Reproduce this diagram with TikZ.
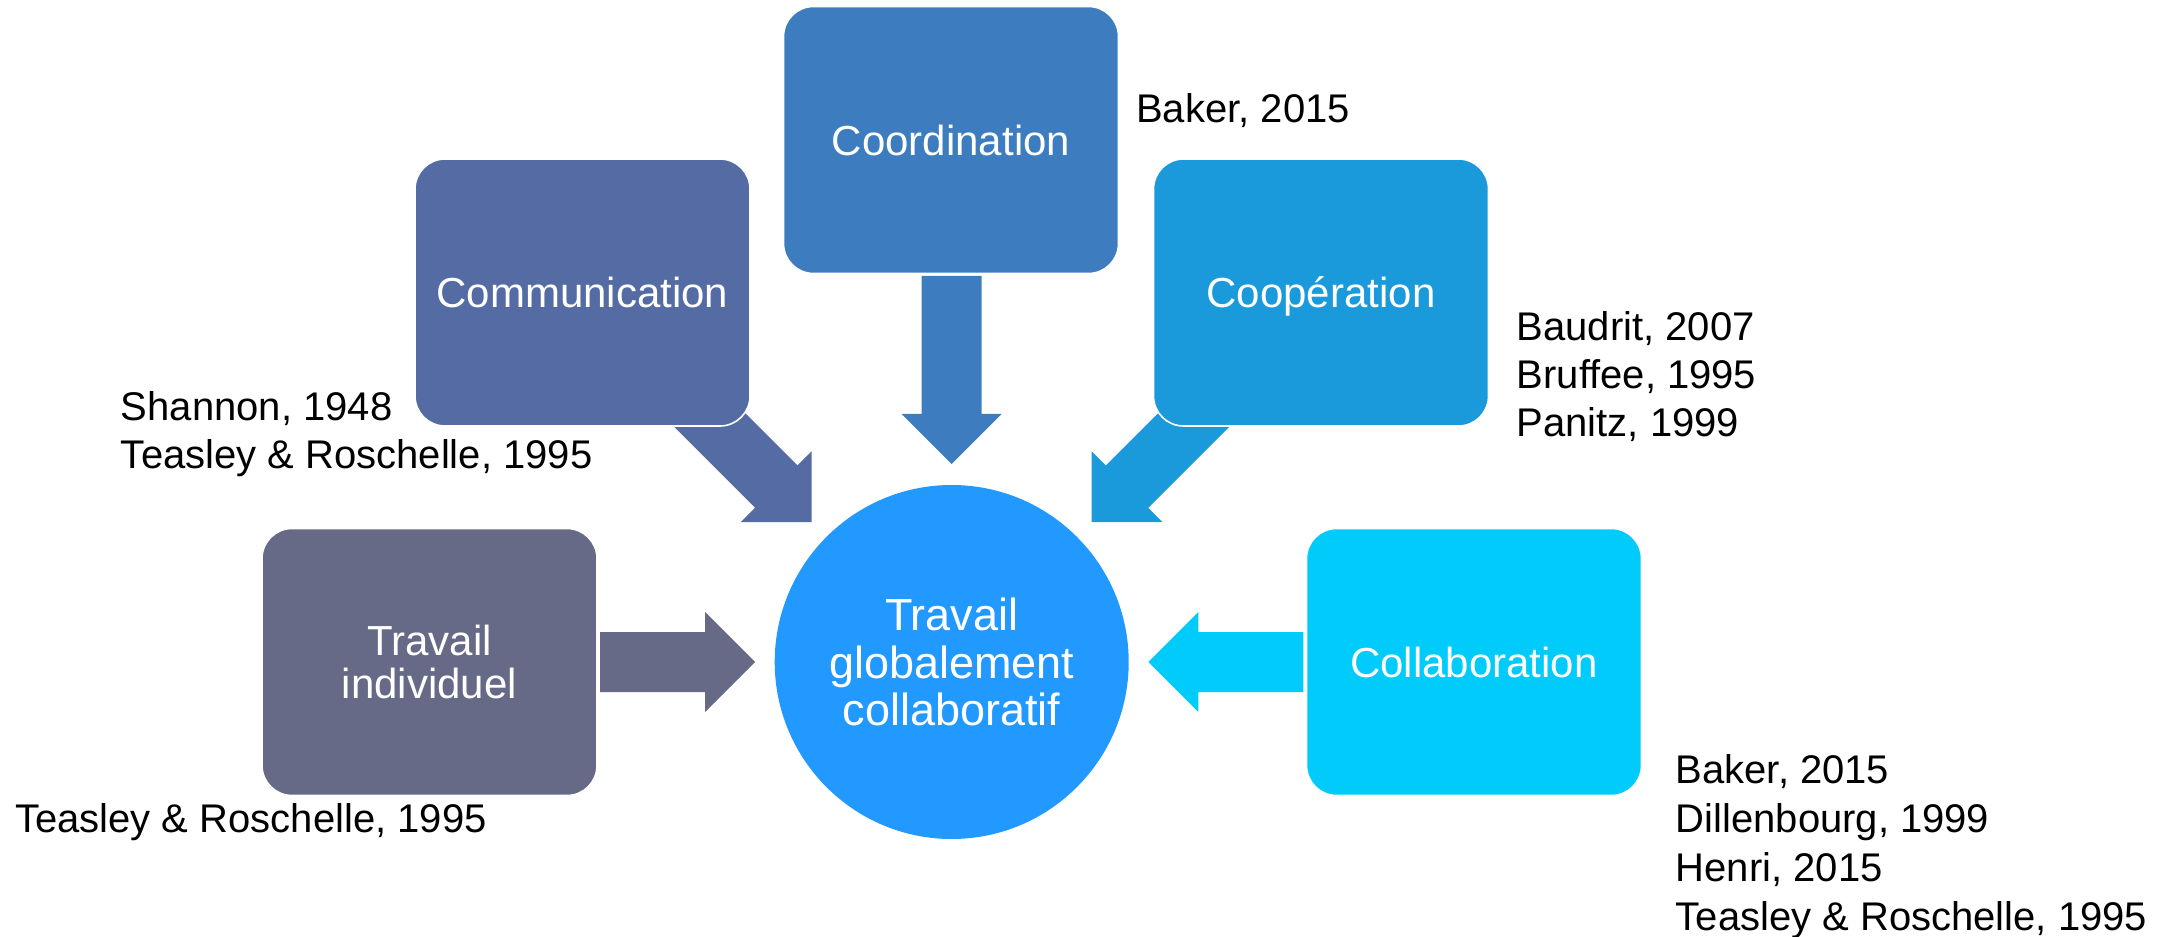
\documentclass[tikz,border=0pt]{standalone}
\usepackage{fontspec}
\setmainfont{Liberation Sans}
\usetikzlibrary{calc}

\definecolor{commc}{HTML}{546BA3}
\definecolor{coordc}{HTML}{3E7CC0}
\definecolor{coopc}{HTML}{1A9ADB}
\definecolor{indc}{HTML}{666A87}
\definecolor{collc}{HTML}{00CBFA}
\definecolor{hubc}{HTML}{2299FF}

\tikzset{
  % block arrow with its tip at the origin, pointing along +x; #1 = shaft length
  pics/blkarrow/.style={code={
    \path[pic actions] (0,0) -- (-50,50) -- (-50,30) -- (-50-#1,30)
      -- (-50-#1,-30) -- (-50,-30) -- (-50,-50) -- cycle;
  }},
  box/.style={rectangle, rounded corners=22.5pt, draw=white, line width=1.2pt,
    minimum width=251.25pt, minimum height=200.25pt, inner sep=0pt,
    text=white, align=center, font=\fontsize{31.5}{33.75}\selectfont},
  oneline/.style={text height=22.55pt, text depth=0pt},
  hub/.style={circle, fill=hubc, minimum size=265.5pt, inner sep=0pt,
    text=white, align=center, font=\fontsize{33.75}{35.6}\selectfont},
  cite/.style={anchor=north west, inner sep=0pt, align=left,
    font=\fontsize{30}{36}\selectfont},
}

\begin{document}
\begin{tikzpicture}[x=0.75pt,y=-0.75pt]
  \useasboundingbox (0,0) rectangle (2177,937);

  % central circle
  \node[hub] (hub) at (951.7,662) {Travail\\globalement\\collaboratif};

  % block arrows converging on the circle
  \pic[fill=coordc, rotate=-90]  at ($(hub.center)+(0,-198)$)      {blkarrow=138};
  \pic[fill=commc,  rotate=-45]  at ($(hub.center)+(-140,-140)$)   {blkarrow=125};
  \pic[fill=coopc,  rotate=-135] at ($(hub.center)+(140,-140)$)    {blkarrow=125};
  \pic[fill=indc]                at ($(hub.center)+(-196.7,0)$)    {blkarrow=105};
  \pic[fill=collc,  rotate=180]  at ($(hub.center)+(196.7,0)$)     {blkarrow=105};

  % surrounding boxes
  \node[box, oneline, fill=coordc] (coord) at (951,140)    {Coordination};
  \node[box, oneline, fill=commc]  (comm)  at (582.5,292.5) {Communication};
  \node[box, oneline, fill=coopc]  (coop)  at (1321,292.5) {Coopération};
  \node[box, fill=indc]            (ind)   at (429.5,662)  {Travail\\[-1.5pt]individuel};
  \node[box, oneline, fill=collc]  (coll)  at (1474,662)   {Collaboration};

  % references
  \node[cite] (refcoord) at (1136,93)     {Baker, 2015};
  \node[cite] (refcomm)  at (120.7,391.5) {Shannon, 1948\\Teasley \& Roschelle, 1995};
  \node[cite] (refcoop)  at (1516.5,311.4) {Baudrit, 2007\\Bruffee, 1995\\Panitz, 1999};
  \node[cite] (refind)   at (15,803.5)    {Teasley \& Roschelle, 1995};
  \node[cite, font=\fontsize{30}{36.6}\selectfont] (refcoll) at (1675.5,754.7)
    {Baker, 2015\\Dillenbourg, 1999\\Henri, 2015\\Teasley \& Roschelle, 1995};
\end{tikzpicture}
\end{document}
